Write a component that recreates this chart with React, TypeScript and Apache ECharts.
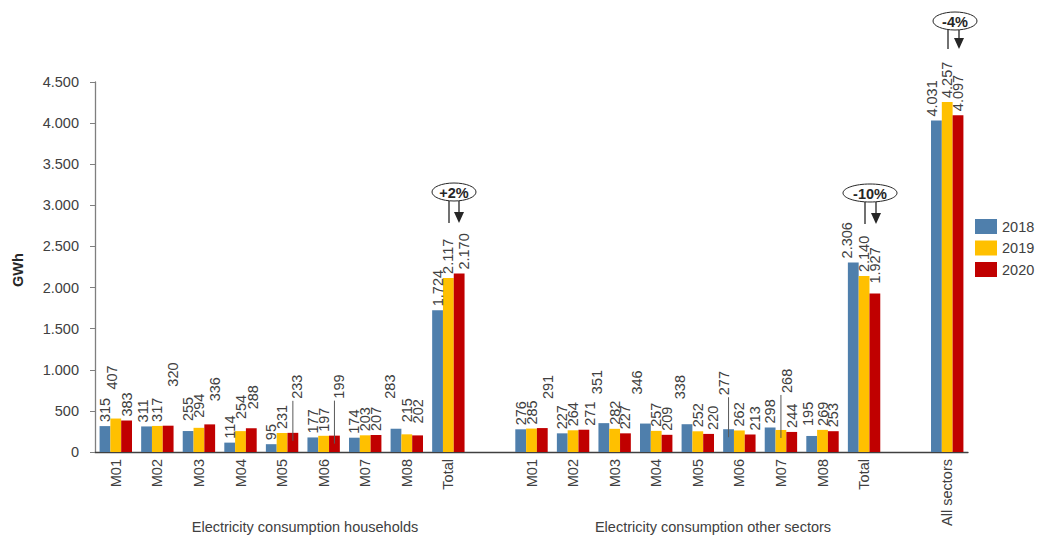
import React, { useEffect, useRef } from "react";
import * as echarts from "echarts";

const categories = [
  "M01", "M02", "M03", "M04", "M05", "M06", "M07", "M08", "Total", "",
  "M01", "M02", "M03", "M04", "M05", "M06", "M07", "M08", "Total", "",
  "All sectors",
];
const seriesNames = ["2018", "2019", "2020"];
const values2018 = [315, 311, 255, 114, 95, 177, 174, 283, 1724, null, 276, 227, 351, 346, 338, 277, 298, 195, 2306, null, 4031];
const values2019 = [407, 317, 294, 254, 231, 197, 203, 215, 2117, null, 285, 264, 282, 257, 252, 262, 268, 269, 2140, null, 4257];
const values2020 = [383, 320, 336, 288, 233, 199, 207, 202, 2170, null, 291, 271, 227, 209, 220, 213, 244, 253, 1927, null, 4097];
const yTicks = [0, 500, 1000, 1500, 2000, 2500, 3000, 3500, 4000, 4500];
const groupTitles = ["Electricity consumption households", "Electricity consumption other sectors"];
const changeLabels = ["+2%", "-10%", "-4%"];

const colors = ["#4F7FAC", "#FFC000", "#C00000"];
const FONT = "Liberation Sans, Arial, sans-serif";
const TXT = "#404040";
const BAR_W = 10.8;

// label nudges (series, index, dx, dy, leader line)
const labelShifts: [number, number, number, number, boolean][] = [
  [1, 0, -4, -25, false],
  [0, 1, -4, 0, false],
  [2, 1, 5, -35, false],
  [0, 2, 0, -6, false],
  [1, 2, 0, -6, false],
  [2, 2, 5, -19, false],
  [1, 3, 0, -8, false],
  [2, 3, 2, -15, false],
  [2, 4, 4, -30, true],
  [2, 5, 5, -33, true],
  [0, 7, -6, -26, false],
  [1, 7, 0, -8, false],
  [2, 7, 0, -8, false],
  [2, 8, 5, 0, false],
  [2, 10, 6, -25, false],
  [2, 11, 6, 0, false],
  [0, 12, -7, -25, false],
  [0, 13, -8, -25, false],
  [0, 14, -7, -21, false],
  [2, 14, 4, 0, false],
  [0, 15, -5, -30, true],
  [2, 15, 5, 0, false],
  [1, 16, 6, -33, true],
  [0, 17, -4, -6, false],
  [0, 18, -6, 0, false],
  [2, 18, 0, -6, false],
  [0, 20, -4, 0, false],
];

const fmt = (v: number) => {
  const s = String(Math.round(v));
  return s.replace(/\B(?=(\d{3})+(?!\d))/g, ".");
};

function findShift(s: number, i: number) {
  return labelShifts.find((r) => r[0] === s && r[1] === i);
}

function annotation(cx: number, cy: number, rx: number, ry: number, text: string, lx: number, ax: number, yEnd: number) {
  const yStart = cy + ry;
  return [
    { type: "ellipse", shape: { cx, cy, rx, ry }, style: { fill: "#fff", stroke: "#262626", lineWidth: 1 } },
    {
      type: "text", x: cx, y: cy + 0.5,
      style: { text, fill: "#262626", font: `bold 14.5px ${FONT}`, align: "center", verticalAlign: "middle" },
    },
    { type: "line", shape: { x1: lx, y1: yStart, x2: lx, y2: yEnd }, style: { stroke: "#262626", lineWidth: 1.3 } },
    { type: "line", shape: { x1: ax, y1: yStart, x2: ax, y2: yEnd - 8 }, style: { stroke: "#262626", lineWidth: 1.3 } },
    { type: "polygon", shape: { points: [[ax - 5, yEnd - 11], [ax + 5, yEnd - 11], [ax, yEnd]] }, style: { fill: "#262626" } },
  ];
}

export default function App() {
  const ref = useRef<HTMLDivElement>(null);
  useEffect(() => {
    if (!ref.current) return;
    const chart = echarts.init(ref.current, null, { renderer: "svg" });
    const allValues = [values2018, values2019, values2020];
    const leaderLines: any[] = [];
    const series = allValues.map((vals, s) => ({
      name: seriesNames[s],
      type: "bar",
      barGap: "0%",
      barWidth: BAR_W,
      itemStyle: { color: colors[s] },
      data: vals.map((v, i) => {
        if (v === null) return null;
        const sh = findShift(s, i);
        const dx = sh ? sh[2] : 0;
        const dy = sh ? sh[3] : 0;
        return { value: v, label: { position: [BAR_W / 2 + dx, -4 + dy] } };
      }),
      label: {
        show: true,
        position: [BAR_W / 2, -4],
        rotate: 90,
        align: "left",
        verticalAlign: "middle",
        color: TXT,
        fontSize: 14.5,
        fontFamily: FONT,
        formatter: (p: any) => fmt(p.value),
      },
    }));

    const baseOption: any = {
      animation: false,
      textStyle: { fontFamily: FONT },
      grid: { left: 95, right: 72, top: 82, bottom: 88, containLabel: false },
      legend: {
        data: seriesNames,
        orient: "vertical",
        left: 975,
        top: 219,
        icon: "rect",
        itemWidth: 22,
        itemHeight: 15,
        itemGap: 6.5,
        padding: 0,
        textStyle: { color: TXT, fontSize: 14.5, fontFamily: FONT },
      },
      xAxis: {
        type: "category",
        data: categories,
        axisLine: { show: true, lineStyle: { color: "#404040", width: 1.3 } },
        axisTick: { show: false },
        axisLabel: {
          interval: 0,
          rotate: 90,
          margin: 7,
          color: TXT,
          fontSize: 14.5,
          fontFamily: FONT,
        },
      },
      yAxis: {
        type: "value",
        min: 0,
        max: 4500,
        interval: 500,
        axisLine: { show: true, lineStyle: { color: "#7F7F7F", width: 1.3 } },
        axisTick: { show: true, inside: false, length: 5, lineStyle: { color: "#7F7F7F" } },
        splitLine: { show: false },
        axisLabel: {
          margin: 16,
          color: TXT,
          fontSize: 14.5,
          fontFamily: FONT,
          formatter: (v: number) => (yTicks.includes(v) ? fmt(v) : ""),
        },
      },
      series,
    };
    chart.setOption(baseOption);

    // leader lines for displaced labels, positioned through the chart's own scales
    labelShifts.forEach(([s, i, dx, dy, line]) => {
      if (!line) return;
      const v = allValues[s][i];
      if (v === null) return;
      const p = chart.convertToPixel({ xAxisIndex: 0, yAxisIndex: 0 }, [i, v]) as number[];
      const x = p[0] + (s - 1) * BAR_W;
      leaderLines.push({
        type: "line",
        z: 100,
        shape: { x1: x, y1: p[1] - 4 + dy + 2, x2: x, y2: p[1] + 8 },
        style: { stroke: "#595959", lineWidth: 1 },
      });
    });

    chart.setOption({
      graphic: [
        {
          type: "text", x: 18, y: 270, rotation: Math.PI / 2,
          style: { text: "GWh", fill: "#262626", font: `bold 14.5px ${FONT}`, align: "center", verticalAlign: "middle" },
        },
        {
          type: "text", x: 305, y: 527,
          style: { text: groupTitles[0], fill: TXT, font: `14.5px ${FONT}`, align: "center", verticalAlign: "middle" },
        },
        {
          type: "text", x: 713, y: 527,
          style: { text: groupTitles[1], fill: TXT, font: `14.5px ${FONT}`, align: "center", verticalAlign: "middle" },
        },
        ...annotation(454, 192, 22, 9, changeLabels[0], 449, 459, 223),
        ...annotation(870, 193, 27, 9, changeLabels[1], 865, 876, 224),
        ...annotation(955, 21, 22, 9, changeLabels[2], 948, 959, 49),
        ...leaderLines,
      ],
    });
    return () => chart.dispose();
  }, []);
  return (
    <div
      ref={ref}
      style={{ position: "fixed", left: 0, top: 0, width: 1040, height: 540, background: "#fff" }}
    />
  );
}
